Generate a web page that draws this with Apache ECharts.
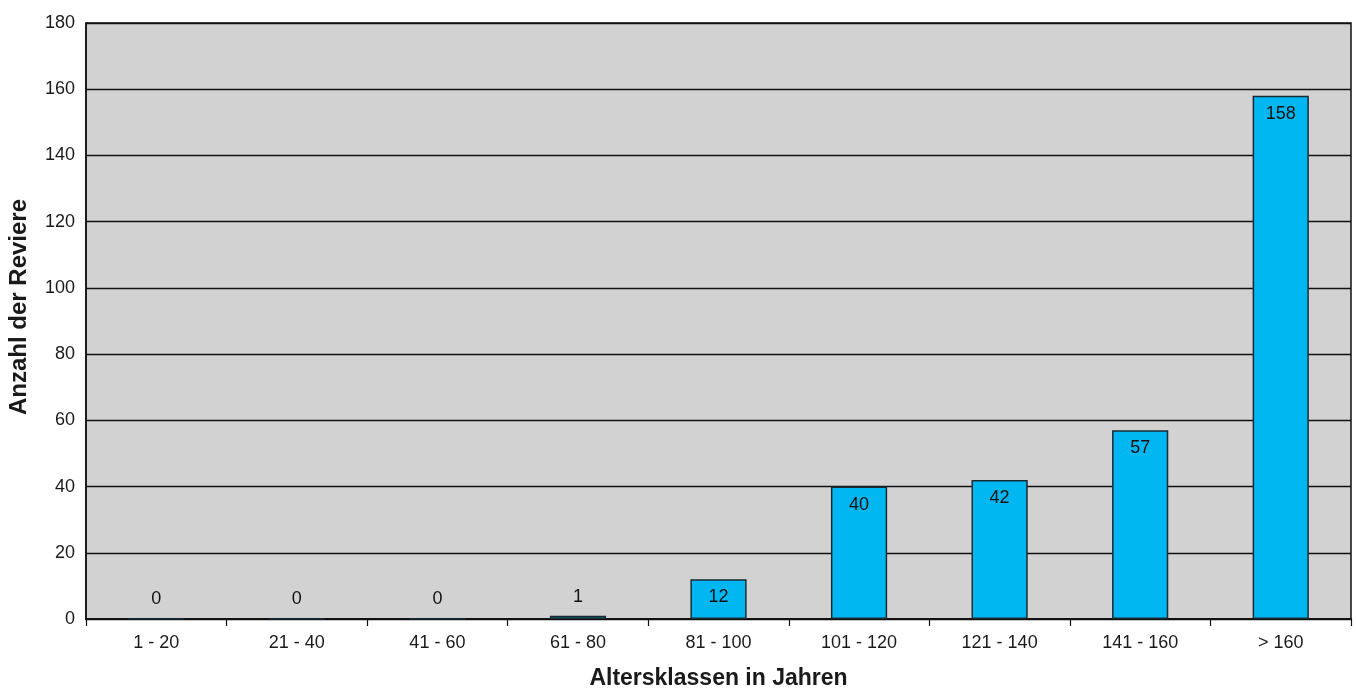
<!DOCTYPE html>
<html>
<head>
<meta charset="utf-8">
<script src="https://cdn.jsdelivr.net/npm/echarts@6/dist/echarts.min.js"></script>
<style>
  html, body { margin: 0; padding: 0; background: #ffffff; }
  #chart { width: 1356px; height: 693px; }
</style>
</head>
<body>
<div id="chart"></div>
<script>
// Altersklassen (Jahre) und Anzahl der Reviere je Klasse
const categories = ['1 - 20', '21 - 40', '41 - 60', '61 - 80', '81 - 100', '101 - 120', '121 - 140', '141 - 160', '> 160'];
const counts = [0, 0, 0, 1, 12, 40, 42, 57, 158];
const yTicks = { min: 0, max: 180, interval: 20 };

const chart = echarts.init(document.getElementById('chart'));

// Very small bars get their label above the bar, others inside at the top
const seriesData = counts.map(v => ({
  value: v,
  label: v < 5
    ? { position: 'top', distance: 10 }
    : { position: 'insideTop', distance: 9 }
}));

chart.setOption({
  animation: false,
  textStyle: { fontFamily: '"Liberation Sans", Arial, sans-serif' },
  grid: {
    left: 86, right: 5, top: 23, bottom: 74,
    containLabel: false, outerBoundsMode: 'none',
    show: true, backgroundColor: '#d2d2d2', borderColor: '#111', borderWidth: 1.5
  },
  xAxis: {
    type: 'category',
    data: categories,
    name: 'Altersklassen in Jahren',
    nameLocation: 'middle',
    nameGap: 48,
    nameTextStyle: { fontSize: 23, fontWeight: 'bold', color: '#1a1a1a' },
    axisLine: { lineStyle: { color: '#111', width: 2 } },
    axisTick: { show: true, length: 7, lineStyle: { color: '#111', width: 1.2 } },
    axisLabel: { fontSize: 18, color: '#1a1a1a', margin: 15 }
  },
  yAxis: {
    type: 'value',
    min: yTicks.min, max: yTicks.max, interval: yTicks.interval,
    name: 'Anzahl der Reviere',
    nameLocation: 'middle',
    nameGap: 55,
    nameTextStyle: { fontSize: 24, fontWeight: 'bold', color: '#1a1a1a', padding: [0, 0, 0, 28] },
    axisLine: { show: true, lineStyle: { color: '#111', width: 1.5 } },
    axisTick: { show: false },
    axisLabel: { fontSize: 18, color: '#1a1a1a', margin: 11 },
    splitLine: { show: true, lineStyle: { color: '#111', width: 1.3 } }
  },
  series: [{
    type: 'bar',
    data: seriesData,
    barWidth: '40%',
    itemStyle: { color: '#00b7f1', borderColor: '#1a2a33', borderWidth: 1.5 },
    label: { show: true, fontSize: 18, color: '#111' }
  }]
});
</script>
</body>
</html>
